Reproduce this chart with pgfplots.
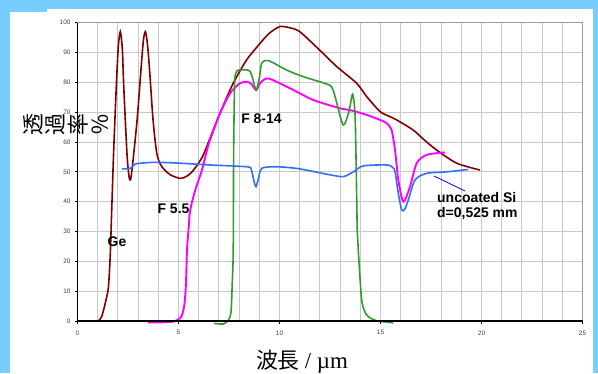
\documentclass[border=0pt]{standalone}
\usepackage{fontspec}
\setmainfont{Liberation Sans}
\newfontfamily\cjk{Noto Sans CJK JP}
\newfontfamily\serifx{Liberation Serif}
\usepackage{graphicx}
\usepackage{pgfplots}
\pgfplotsset{compat=1.18}
\definecolor{bgblue}{RGB}{120,205,255}
\definecolor{gebrown}{RGB}{128,0,0}
\definecolor{fpink}{RGB}{255,0,255}
\definecolor{fgreen}{RGB}{51,153,51}
\definecolor{siblue}{RGB}{51,110,255}
\definecolor{gridgray}{RGB}{200,200,200}
\begin{document}
\begin{tikzpicture}[x=1bp,y=1bp]
\fill[bgblue] (0,0) rectangle (598,373);
\fill[white] (10,0) rectangle (593,364);
\fill[bgblue] (10,361) rectangle (47,364);
\begin{axis}[
  scale only axis, width=505bp, height=298.3bp,
  at={(77.5bp,52bp)}, anchor=south west,
  xmin=0, xmax=25, ymin=0, ymax=100,
  xtick={0,5,...,25}, ytick={0,10,...,100},
  minor x tick num=4,
  xmajorgrids, xminorgrids, ymajorgrids,
  grid style={gridgray, line width=0.9bp},
  minor grid style={gridgray, line width=0.9bp},
  axis line style={gray!80, line width=0.8bp},
  tick align=outside, xtick pos=bottom, ytick pos=left,
  major tick length=3bp, minor tick length=0pt,
  tick style={black, line width=0.8bp},
  ticklabel style={font=\fontsize{6.5}{7}\selectfont, text=black!75},
  /pgf/number format/assume math mode=true,
  xticklabel style={yshift=-3bp},
  yticklabel style={xshift=-0.5bp},
  clip=false,
  every axis plot/.append style={smooth, tension=0.45, no markers},
]
\addplot[gebrown, line width=1.6bp] coordinates {
(1.03,0) (1.2,1.5) (1.41,7) (1.53,11.3) (1.62,22) (1.71,40.6) (1.79,57) (1.92,78.5) (2.02,92) (2.12,97) (2.22,91) (2.29,78.5) (2.45,56) (2.55,48.5) (2.62,47.3) (2.72,52) (2.95,67.4) (3.14,84) (3.26,94) (3.36,97) (3.46,93) (3.57,84) (3.74,67.4) (3.93,56) (4.18,51.7) (4.6,49) (5.09,47.8) (5.4,48.5) (5.67,50) (6.0,53) (6.25,56) (6.72,64) (7.2,72) (7.71,79.7) (8.37,87.5) (9.03,93) (9.5,96.5) (10.02,98.7) (10.5,98.3) (11.0,97) (11.99,90.8) (12.83,85.3) (13.82,79.7) (14.32,75.2) (14.98,70.2) (15.47,68.5) (15.8,67.4) (16.62,64) (17.2,60.5) (17.78,57.3) (18.77,52.9) (19.93,50.6)
};
\addplot[fpink, line width=1.9bp] coordinates {
(3.5,-0.5) (4.0,-0.5) (4.74,-0.2) (5.07,0.9) (5.2,2.5) (5.3,6) (5.37,12.6) (5.42,23.8) (5.5,31) (5.58,37.2) (5.83,43.9) (6.16,50.6) (6.41,57.3) (6.56,60.7) (7.05,69.6) (7.55,76.3) (8.04,79.7) (8.38,80.2) (8.6,79.5) (8.84,77.4) (9.05,79.8) (9.45,81.3) (10.52,78) (11.67,74.1) (13.0,71.3) (13.49,70.7) (14.32,69.1) (14.98,67.4) (15.31,66.3) (15.55,64) (15.72,57.3) (15.88,47.3) (16.13,40) (16.46,45) (16.79,52.9) (17.29,55.7) (18.19,56.5)
};
\addplot[fgreen, line width=1.6bp] coordinates {
(6.77,-0.8) (7.22,-1) (7.47,0.3) (7.6,3.1) (7.66,12.6) (7.71,23.8) (7.73,57.3) (7.78,80) (7.86,83.3) (7.96,84.1) (8.46,84.1) (8.62,82.5) (8.84,77.4) (9.0,81.3) (9.12,86.4) (9.45,87.3) (10.36,84.1) (11.18,81.9) (11.99,80.2) (12.5,79) (12.65,77.5) (12.8,74) (13.15,65.7) (13.43,70) (13.62,76) (13.74,69) (13.8,50) (13.85,30) (13.9,23.8) (14.07,7) (14.32,2) (14.81,0.1) (15.63,-0.6)
};
\addplot[siblue, line width=1.6bp] coordinates {
(2.2,51) (2.62,51.2) (2.86,52.6) (3.3,53) (3.93,53.2) (5.07,52.9) (6.57,52.3) (8.39,51.7) (8.6,50.8) (8.75,46.5) (8.84,45) (8.95,47.5) (9.13,51.2) (9.88,51.7) (11,51) (12.5,49) (13.16,48.4) (13.65,50) (14.15,52) (15.31,52.3) (15.6,51.5) (15.72,50) (15.88,42.8) (16.05,37.2) (16.2,37.5) (16.38,40.6) (16.71,47.3) (17.29,49.5) (18.28,50) (19.35,50.8)
};
\end{axis}
\draw[black, line width=1.1bp] (77.5,350.3) -- (77.5,52) -- (582.5,52);
\draw[blue, line width=0.8bp] (434,197) -- (465,182);
\begin{scope}[every node/.style={font=\fontsize{14}{16}\selectfont\bfseries, inner sep=0pt}]
\node at (117,131) {Ge};
\node at (173.5,164) {F 5.5};
\node at (261.5,254) {F 8-14};
\node[anchor=west] at (437,175.5) {uncoated Si};
\node[anchor=west] at (437,159) {d=0,525 mm};
\end{scope}
\node[inner sep=0pt, font=\cjk\fontsize{22}{24}\selectfont] at (66,248)
  {\rotatebox{90}{透}\hspace{3bp}\rotatebox{90}{過}\hspace{3bp}\rotatebox{90}{率}\hspace{3bp}\rotatebox{90}{％}};
\node[inner sep=0pt, anchor=base] at (302,4)
  {{\cjk\fontsize{22}{24}\selectfont 波長}\hspace{5bp}{\serifx\fontsize{23}{25}\selectfont / µm}};
\end{tikzpicture}
\end{document}
